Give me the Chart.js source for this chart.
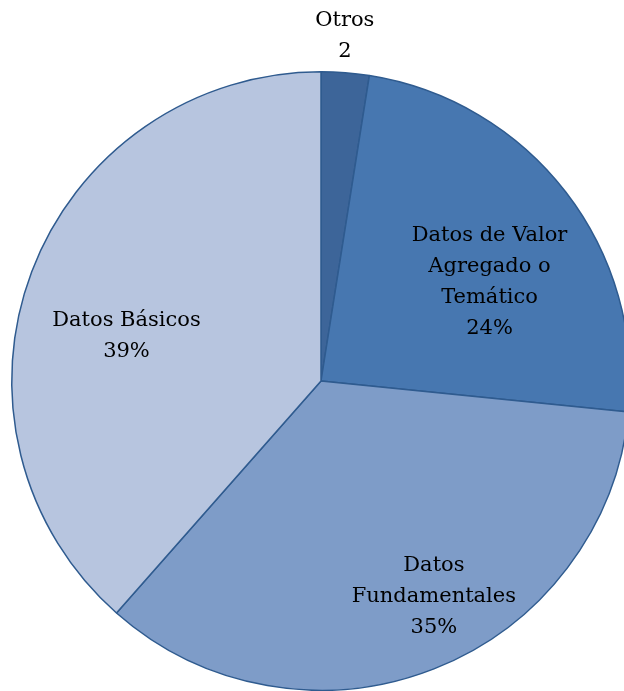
<!DOCTYPE html>
<html>
<head>
<meta charset="utf-8">
<script src="https://cdn.jsdelivr.net/npm/chart.js@4"></script>
<style>
  html, body { margin: 0; padding: 0; background: #fff; overflow: hidden; }
  #wrap { width: 624px; height: 691px; overflow: hidden; position: relative; }
  canvas { position: absolute; left: 0; top: 0; }
</style>
</head>
<body>
<div id="wrap"><canvas id="pie" width="642" height="691"></canvas></div>
<script>
const categories = ["Otros", "Datos de Valor Agregado o Temático", "Datos Fundamentales", "Datos Básicos"];
const values = [2.5, 24.1, 34.9, 38.5];
const labelLines = [
  ["Otros", "2"],
  ["Datos de Valor", "Agregado o", "Temático", "24%"],
  ["Datos", "Fundamentales", "35%"],
  ["Datos Básicos", "39%"]
];
const colors = ["#3d6599", "#4777b0", "#7e9cc8", "#b7c5df"];

// label centre as a fraction of the radius, relative to the pie centre
const labelPos = [[0.077, -1.116], [0.545, -0.319], [0.365, 0.697], [-0.629, -0.144]];

const pieLabels = {
  id: "pieLabels",
  afterDatasetsDraw(chart) {
    const ctx = chart.ctx;
    const arcs = chart.getDatasetMeta(0).data;
    ctx.save();
    ctx.font = "21px 'DejaVu Serif'";
    ctx.fillStyle = "#000";
    ctx.textAlign = "center";
    ctx.textBaseline = "middle";
    const lh = 31;
    arcs.forEach((arc, i) => {
      const p = arc.getProps(["x", "y", "outerRadius"], true);
      const cx = p.x + labelPos[i][0] * p.outerRadius;
      const cy = p.y + labelPos[i][1] * p.outerRadius;
      const lines = labelLines[i];
      lines.forEach((t, k) => {
        ctx.fillText(t, cx, cy + (k - (lines.length - 1) / 2) * lh);
      });
    });
    ctx.restore();
  }
};

new Chart(document.getElementById("pie").getContext("2d"), {
  type: "pie",
  data: {
    labels: categories,
    datasets: [{
      data: values,
      backgroundColor: colors,
      borderColor: "#2f5b8f",
      borderWidth: 1.5
    }]
  },
  options: {
    responsive: false,
    animation: false,
    layout: { padding: { top: 71, left: 11, right: 11, bottom: 0 } },
    plugins: {
      legend: { display: false },
      tooltip: { enabled: false }
    }
  },
  plugins: [pieLabels]
});
</script>
</body>
</html>
